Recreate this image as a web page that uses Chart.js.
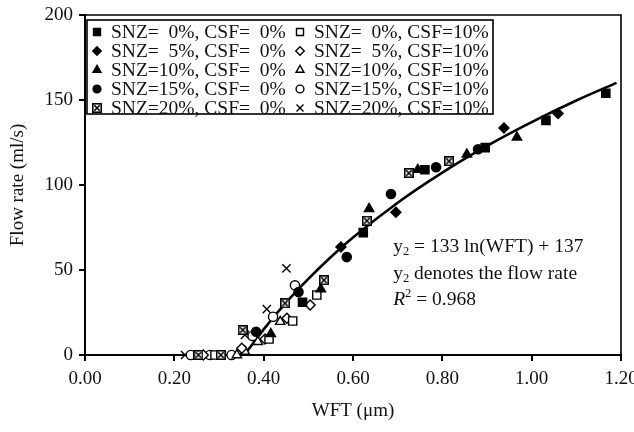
<!DOCTYPE html>
<html>
<head>
<meta charset="utf-8">
<script src="https://cdn.jsdelivr.net/npm/chart.js@4.4.0/dist/chart.umd.min.js"></script>
<style>
  html, body { margin: 0; padding: 0; background: #fff; }
</style>
</head>
<body>
<canvas id="flowChart" width="634" height="432"></canvas>
<script>
// series names (legend order: left column CSF=0%, right column CSF=10%)
const seriesLabels = [
  'SNZ=  0%, CSF=  0%', 'SNZ=  5%, CSF=  0%', 'SNZ=10%, CSF=  0%', 'SNZ=15%, CSF=  0%', 'SNZ=20%, CSF=  0%',
  'SNZ=  0%, CSF=10%', 'SNZ=  5%, CSF=10%', 'SNZ=10%, CSF=10%', 'SNZ=15%, CSF=10%', 'SNZ=20%, CSF=10%'
];

// WFT (um) per series
const wftValues = [
  [0.487, 0.623, 0.761, 0.896, 1.032, 1.166],
  [0.573, 0.696, 0.938, 1.059],
  [0.416, 0.528, 0.636, 0.745, 0.855, 0.967],
  [0.383, 0.478, 0.586, 0.685, 0.786, 0.880],
  [0.254, 0.304, 0.353, 0.448, 0.535, 0.631, 0.725, 0.815],
  [0.291, 0.412, 0.465, 0.519],
  [0.265, 0.351, 0.403, 0.452, 0.504],
  [0.340, 0.358, 0.387, 0.437],
  [0.237, 0.280, 0.328, 0.375, 0.421, 0.470],
  [0.224, 0.358, 0.407, 0.451]
];

// flow rate (ml/s) per series
const flowValues = [
  [31, 72, 109, 122, 138, 154],
  [63.5, 84, 133.5, 142],
  [12.4, 38.7, 86, 109, 118, 128],
  [13.7, 37, 57.6, 94.7, 110.4, 121],
  [0, 0, 14.7, 30.4, 44, 79, 107, 114],
  [0, 9.4, 20, 35.3],
  [0, 4, 9.4, 21.6, 29.4],
  [0, 2, 7.8, 19.6],
  [0, 0, 0, 11.2, 22.5, 41],
  [0, 11.8, 27, 51]
];

// fitted curve y2 = 133 ln(WFT) + 137
const fitWft  = [0.357, 0.40, 0.45, 0.50, 0.55, 0.60, 0.70, 0.80, 0.90, 1.00, 1.10, 1.19];
const fitFlow = [0.0, 15.1, 30.8, 44.8, 57.5, 69.1, 89.6, 107.3, 123.0, 137.0, 149.7, 160.1];

const xTickLabels = ['0.00', '0.20', '0.40', '0.60', '0.80', '1.00', '1.20'];
const yTickLabels = ['0', '50', '100', '150', '200'];

// square with a cross inside
function makeBoxCross(size) {
  const c = document.createElement('canvas');
  c.width = size; c.height = size;
  const g = c.getContext('2d');
  g.fillStyle = '#fff';
  g.fillRect(0, 0, size, size);
  g.strokeStyle = '#000';
  g.lineWidth = 1.6;
  g.strokeRect(0.8, 0.8, size - 1.6, size - 1.6);
  g.beginPath();
  g.moveTo(2.3, 2.3); g.lineTo(size - 2.3, size - 2.3);
  g.moveTo(size - 2.3, 2.3); g.lineTo(2.3, size - 2.3);
  g.stroke();
  return c;
}
const boxCross = makeBoxCross(10);

const pointStyles = ['rect', 'rectRot', 'triangle', 'circle', boxCross, 'rect', 'rectRot', 'triangle', 'circle', 'crossRot'];
const pointSizes  = [5.8, 5, 5.4, 4.6, 5, 5.8, 5, 5.4, 4.6, 5.8];
const filled      = [true, true, true, true, false, false, false, false, false, false];

const FONT = "'Liberation Serif', 'Times New Roman', Times, serif";
Chart.defaults.font.family = FONT;
Chart.defaults.font.size = 19;
Chart.defaults.color = '#111';

const datasets = seriesLabels.map((label, i) => ({
  label: label,
  data: wftValues[i].map((x, j) => ({ x: x, y: flowValues[i][j] })),
  pointStyle: pointStyles[i],
  pointRadius: pointSizes[i],
  pointBackgroundColor: filled[i] ? '#000' : '#fff',
  pointBorderColor: '#000',
  pointBorderWidth: 1.4,
  showLine: false,
  clip: false,
  order: 0
}));

datasets.push({
  label: 'fit',
  type: 'line',
  data: fitWft.map((x, j) => ({ x: x, y: fitFlow[j] })),
  borderColor: '#000',
  borderWidth: 2.6,
  pointRadius: 0,
  tension: 0.4,
  cubicInterpolationMode: 'monotone',
  fill: false,
  clip: false,
  order: 1
});

// frame on top/right of plot area
const plotFrame = {
  id: 'plotFrame',
  beforeDatasetsDraw(chart) {
    const { ctx, chartArea: a } = chart;
    ctx.save();
    ctx.strokeStyle = '#000';
    ctx.lineWidth = 1.6;
    ctx.beginPath();
    ctx.moveTo(a.left, a.top);
    ctx.lineTo(a.right, a.top);
    ctx.lineTo(a.right, a.bottom);
    ctx.stroke();
    ctx.restore();
  }
};

function drawMarker(ctx, i, x, y) {
  const opts = { pointStyle: pointStyles[i], radius: pointSizes[i] * 0.85, rotation: 0, borderWidth: 1.4 };
  ctx.fillStyle = filled[i] ? '#000' : '#fff';
  ctx.strokeStyle = '#000';
  ctx.lineWidth = 1.4;
  if (pointStyles[i] instanceof HTMLCanvasElement) {
    ctx.drawImage(pointStyles[i], x - 5, y - 5);
  } else {
    Chart.helpers.drawPoint(ctx, opts, x, y);
  }
}

// legend box inside the plot
const boxLegend = {
  id: 'boxLegend',
  afterDatasetsDraw(chart) {
    const { ctx, chartArea: a } = chart;
    const left = a.left + 2, top = a.top + 5, w = 406, h = 94;
    ctx.save();
    ctx.fillStyle = '#fff';
    ctx.fillRect(left, top, w, h);
    ctx.strokeStyle = '#000';
    ctx.lineWidth = 1.6;
    ctx.strokeRect(left, top, w, h);
    ctx.font = '19.5px ' + FONT;
    ctx.textBaseline = 'middle';
    for (let i = 0; i < seriesLabels.length; i++) {
      const col = Math.floor(i / 5), row = i % 5;
      const mx = left + 10 + col * 203;
      const my = top + 12 + row * 19;
      drawMarker(ctx, i, mx, my);
      ctx.fillStyle = '#111';
      ctx.textAlign = 'left';
      ctx.fillText(seriesLabels[i], mx + 14, my + 1);
    }
    ctx.restore();
  }
};

// regression note
const fitNote = {
  id: 'fitNote',
  afterDatasetsDraw(chart) {
    const { ctx } = chart;
    const xs = chart.scales.x, ys = chart.scales.y;
    const x0 = xs.getPixelForValue(0.69);
    const y0 = ys.getPixelForValue(60.5);
    const big = '19.5px ' + FONT, small = '12.5px ' + FONT;
    ctx.save();
    ctx.fillStyle = '#111';
    ctx.textBaseline = 'alphabetic';
    ctx.textAlign = 'left';
    const lines = [' = 133 ln(WFT) + 137', ' denotes the flow rate'];
    lines.forEach((t, k) => {
      const y = y0 + k * 26.5;
      let x = x0;
      ctx.font = big; ctx.fillText('y', x, y); x += ctx.measureText('y').width;
      ctx.font = small; ctx.fillText('2', x, y + 3); x += ctx.measureText('2').width;
      ctx.font = big; ctx.fillText(t, x, y);
    });
    const y3 = y0 + 53;
    let x = x0;
    ctx.font = 'italic ' + big; ctx.fillText('R', x, y3); x += ctx.measureText('R').width;
    ctx.font = small; ctx.fillText('2', x, y3 - 8); x += ctx.measureText('2').width;
    ctx.font = big; ctx.fillText(' = 0.968', x, y3);
    ctx.restore();
  }
};

new Chart(document.getElementById('flowChart'), {
  type: 'scatter',
  data: { datasets: datasets },
  options: {
    responsive: false,
    animation: false,
    layout: { padding: { top: 15, right: 13, left: 0, bottom: 0 } },
    plugins: { legend: { display: false }, tooltip: { enabled: false } },
    scales: {
      x: {
        type: 'linear',
        min: 0, max: 1.2,
        ticks: {
          stepSize: 0.2,
          padding: 7,
          maxRotation: 0,
          callback: (v, i) => xTickLabels[i]
        },
        grid: { display: true, drawOnChartArea: false, drawTicks: true, tickLength: 6, tickColor: '#000', lineWidth: 2 },
        border: { display: true, color: '#000', width: 2 },
        title: { display: true, text: 'WFT (\u03bcm)', font: { size: 19 }, padding: { top: 0, bottom: 10 } },
        afterFit: s => { s.height = 77; s.paddingLeft = 0; s.paddingRight = 0; }
      },
      y: {
        min: 0, max: 200,
        ticks: {
          stepSize: 50,
          padding: 6,
          callback: (v, i) => yTickLabels[i]
        },
        grid: { display: true, drawOnChartArea: false, drawTicks: true, tickLength: 6, tickColor: '#000', lineWidth: 2 },
        border: { display: true, color: '#000', width: 2 },
        title: { display: true, text: 'Flow rate (ml/s)', font: { size: 19 }, padding: { top: 7, bottom: 0 } },
        afterFit: s => { s.width = 85; s.paddingTop = 0; s.paddingBottom = 0; }
      }
    }
  },
  plugins: [plotFrame, boxLegend, fitNote]
});
</script>
</body>
</html>
